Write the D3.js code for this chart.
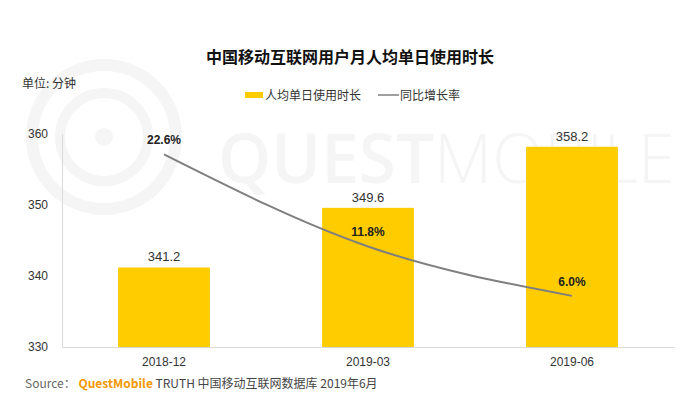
<!DOCTYPE html>
<html>
<head>
<meta charset="utf-8">
<script src="https://cdn.jsdelivr.net/npm/d3@7"></script>
<style>
  body { margin: 0; background: #fff; }
  svg { display: block; font-family: "Liberation Sans", Arial, "Noto Sans CJK SC", sans-serif; }
  .cjk { font-family: "Noto Sans CJK SC", sans-serif; }
</style>
</head>
<body>
<svg id="chart" width="700" height="397"></svg>
<script>
const categories = ['2018-12', '2019-03', '2019-06'];
const minutes = [341.2, 349.6, 358.2];
const growth = [22.6, 11.8, 6.0];
const yTicks = [330, 340, 350, 360];

const margin = { top: 134, right: 26, bottom: 50, left: 62 };
const width = 700, height = 397;

const svg = d3.select('#chart');

// watermark
const wm = svg.append('g').attr('fill', 'none').attr('stroke', '#f5f5f5');
wm.append('circle').attr('cx', 104).attr('cy', 137).attr('r', 72).attr('stroke-width', 12);
wm.append('circle').attr('cx', 104).attr('cy', 137).attr('r', 44).attr('stroke-width', 10);
wm.append('circle').attr('cx', 104).attr('cy', 137).attr('r', 9).attr('fill', '#f5f5f5').attr('stroke', 'none');
svg.append('text')
  .attr('x', 218).attr('y', 183)
  .attr('font-family', '"Open Sans", sans-serif')
  .attr('font-size', 68)
  .attr('fill', '#f5f5f5')
  .attr('textLength', 457)
  .attr('lengthAdjust', 'spacingAndGlyphs')
  .html('<tspan font-weight="600">QUEST</tspan><tspan font-weight="300">MOBILE</tspan>');

// scales
const x = d3.scaleBand()
  .domain(categories)
  .range([margin.left, width - margin.right])
  .paddingInner(0.55)
  .paddingOuter(0.275);

const y = d3.scaleLinear().domain([330, 360]).range([height - margin.bottom, margin.top]);
const y2 = d3.scaleLinear().domain([0, 25]).range([height - margin.bottom, margin.top]);

// axes
const xAxis = svg.append('g')
  .attr('transform', `translate(0,${height - margin.bottom})`)
  .call(d3.axisBottom(x).tickSize(0).tickPadding(10));
xAxis.select('.domain').attr('stroke', '#d9d9d9');
xAxis.selectAll('text').attr('font-size', 12).attr('fill', '#333');

const yAxis = svg.append('g')
  .attr('transform', `translate(${margin.left},0)`)
  .call(d3.axisLeft(y).tickValues(yTicks).tickSize(0).tickPadding(14));
yAxis.select('.domain').attr('stroke', '#d9d9d9');
yAxis.selectAll('text').attr('font-size', 12).attr('fill', '#333');

// bars
svg.append('g')
  .selectAll('rect')
  .data(minutes)
  .join('rect')
  .attr('x', (d, i) => x(categories[i]))
  .attr('y', d => y(d))
  .attr('width', x.bandwidth())
  .attr('height', d => y(330) - y(d))
  .attr('fill', '#ffcc00');

svg.append('g')
  .selectAll('text')
  .data(minutes)
  .join('text')
  .attr('x', (d, i) => x(categories[i]) + x.bandwidth() / 2)
  .attr('y', d => y(d) - 6)
  .attr('text-anchor', 'middle')
  .attr('font-size', 13)
  .attr('fill', '#333')
  .text(d => d.toFixed(1));

// growth line
const line = d3.line()
  .x((d, i) => x(categories[i]) + x.bandwidth() / 2)
  .y(d => y2(d))
  .curve(d3.curveMonotoneX);

svg.append('path')
  .datum(growth)
  .attr('d', line)
  .attr('fill', 'none')
  .attr('stroke', '#7f7f7f')
  .attr('stroke-width', 2);

svg.append('g')
  .selectAll('text')
  .data(growth)
  .join('text')
  .attr('x', (d, i) => x(categories[i]) + x.bandwidth() / 2)
  .attr('y', d => y2(d) - 10)
  .attr('text-anchor', 'middle')
  .attr('font-size', 12)
  .attr('font-weight', 'bold')
  .attr('fill', '#222')
  .text(d => d.toFixed(1) + '%');

// title + unit
svg.append('text')
  .attr('class', 'cjk')
  .attr('x', 350).attr('y', 63)
  .attr('text-anchor', 'middle')
  .attr('font-size', 16)
  .attr('font-weight', 'bold')
  .attr('fill', '#111')
  .text('中国移动互联网用户月人均单日使用时长');

svg.append('text')
  .attr('class', 'cjk')
  .attr('x', 22).attr('y', 88)
  .attr('font-size', 12)
  .attr('fill', '#333')
  .text('单位: 分钟');

// legend
const legend = svg.append('g').attr('class', 'cjk');
legend.append('rect').attr('x', 245).attr('y', 92).attr('width', 18).attr('height', 6).attr('fill', '#ffcc00');
legend.append('text').attr('x', 265).attr('y', 100).attr('font-size', 12).attr('fill', '#333').text('人均单日使用时长');
legend.append('line').attr('x1', 378).attr('x2', 399).attr('y1', 95).attr('y2', 95).attr('stroke', '#7f7f7f').attr('stroke-width', 1.5);
legend.append('text').attr('x', 400).attr('y', 100).attr('font-size', 12).attr('fill', '#333').text('同比增长率');

// source
const src = svg.append('text')
  .attr('class', 'cjk')
  .attr('x', 25).attr('y', 388)
  .attr('font-size', 12)
  .attr('fill', '#444');
src.append('tspan').attr('fill', '#666').text('Source： ');
src.append('tspan').attr('fill', '#f39800').attr('font-weight', 'bold').text('QuestMobile');
src.append('tspan').text(' TRUTH 中国移动互联网数据库 2019年6月');
</script>
</body>
</html>
